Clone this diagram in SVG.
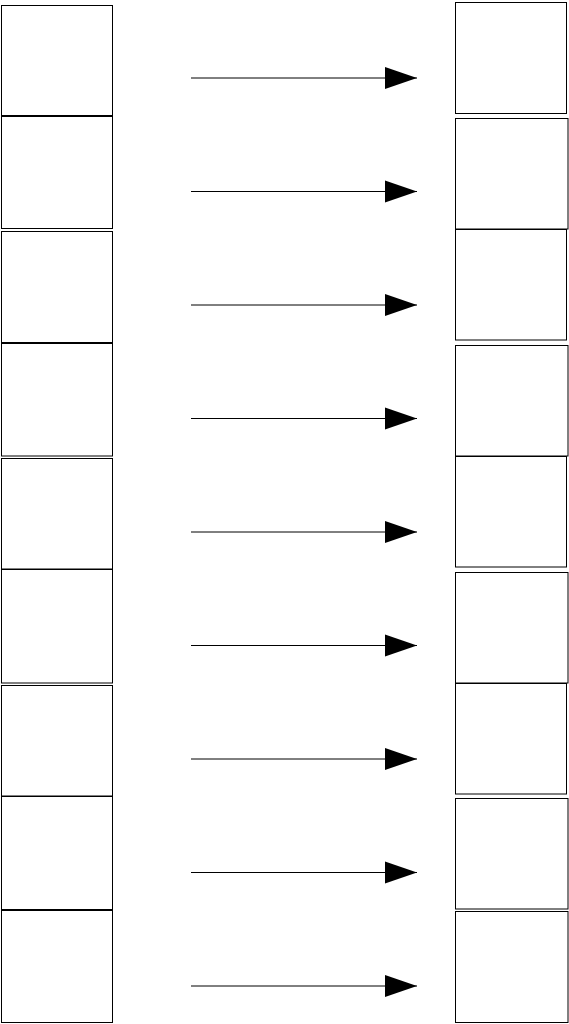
<svg xmlns="http://www.w3.org/2000/svg" width="569" height="1024" viewBox="0 0 569 1024">
<style>
.box{fill:#fff;stroke:#000;stroke-width:1}
.conn{stroke:#000;stroke-width:1;fill:none}
</style>
<defs>
<marker id="ah" markerUnits="userSpaceOnUse" markerWidth="34" markerHeight="24" refX="33" refY="12" orient="auto">
<path d="M1,1 L33,12 L1,23 Z" fill="#000"/>
</marker>
</defs>
<rect width="569" height="1024" fill="#fff"/>
<g id="left-1"><rect class="box" x="1.5" y="5.5" width="111" height="110"/></g>
<g id="left-2"><rect class="box" x="1.5" y="116.5" width="111" height="112"/></g>
<g id="left-3"><rect class="box" x="1.5" y="231.5" width="111" height="111"/></g>
<g id="left-4"><rect class="box" x="1.5" y="343.5" width="111" height="112.5"/></g>
<g id="left-5"><rect class="box" x="1.5" y="458.5" width="111" height="110.5"/></g>
<g id="left-6"><rect class="box" x="1.5" y="569.5" width="111" height="113.5"/></g>
<g id="left-7"><rect class="box" x="1.5" y="685.5" width="111" height="110.5"/></g>
<g id="left-8"><rect class="box" x="1.5" y="796.5" width="111" height="113"/></g>
<g id="left-9"><rect class="box" x="1.5" y="910.5" width="111" height="112"/></g>
<g id="right-1"><rect class="box" x="455.5" y="2.5" width="111" height="111"/></g>
<g id="right-2"><rect class="box" x="455.5" y="118.5" width="112.5" height="110.5"/></g>
<g id="right-3"><rect class="box" x="455.5" y="229.5" width="111" height="110.5"/></g>
<g id="right-4"><rect class="box" x="455.5" y="345.5" width="112.5" height="110.5"/></g>
<g id="right-5"><rect class="box" x="455.5" y="456.5" width="111" height="110.5"/></g>
<g id="right-6"><rect class="box" x="455.5" y="572.5" width="112.5" height="110.5"/></g>
<g id="right-7"><rect class="box" x="455.5" y="683.5" width="111" height="110.5"/></g>
<g id="right-8"><rect class="box" x="455.5" y="798.5" width="112.5" height="110.5"/></g>
<g id="right-9"><rect class="box" x="455.5" y="911.5" width="112.5" height="111"/></g>
<g id="connectors">
<line class="conn" x1="191" y1="78" x2="417" y2="78" marker-end="url(#ah)"/>
<line class="conn" x1="191" y1="191.5" x2="417" y2="191.5" marker-end="url(#ah)"/>
<line class="conn" x1="191" y1="305" x2="417" y2="305" marker-end="url(#ah)"/>
<line class="conn" x1="191" y1="418.5" x2="417" y2="418.5" marker-end="url(#ah)"/>
<line class="conn" x1="191" y1="532" x2="417" y2="532" marker-end="url(#ah)"/>
<line class="conn" x1="191" y1="645.5" x2="417" y2="645.5" marker-end="url(#ah)"/>
<line class="conn" x1="191" y1="759" x2="417" y2="759" marker-end="url(#ah)"/>
<line class="conn" x1="191" y1="872.5" x2="417" y2="872.5" marker-end="url(#ah)"/>
<line class="conn" x1="191" y1="986" x2="417" y2="986" marker-end="url(#ah)"/>
</g>
</svg>
